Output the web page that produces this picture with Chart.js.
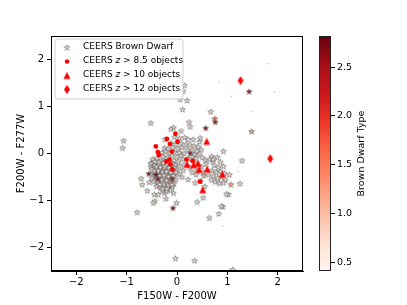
<!DOCTYPE html>
<html>
<head>
<meta charset="utf-8">
<script src="https://cdn.jsdelivr.net/npm/chart.js"></script>
<style>
  html, body { margin: 0; padding: 0; background: #fff; }
  #wrap { position: relative; width: 407px; height: 305px; }
  #wrap canvas { position: absolute; left: 0; top: 0; }
</style>
</head>
<body>
<div id="wrap">
  <canvas id="main" width="407" height="305"></canvas>
  <canvas id="cbar" width="407" height="305"></canvas>
</div>
<script>
// axis setup
const xTicks = [-2, -1, 0, 1, 2];
const yTicks = [-2, -1, 0, 1, 2];
const axisMin = -2.5, axisMax = 2.5;
const cbTicks = [0.5, 1.0, 1.5, 2.0, 2.5];
const typeMin = 0.41, typeMax = 2.82;

const xTitle = "F150W - F200W";
const yTitle = "F200W - F277W";
const cbTitle = "Brown Dwarf Type";

// legend rows: [prefix, italic part, suffix]
const legendRows = [
  ["CEERS Brown Dwarf", "", ""],
  ["CEERS ", "z", " > 8.5 objects"],
  ["CEERS ", "z", " > 10 objects"],
  ["CEERS ", "z", " > 12 objects"]
];

// brown dwarfs, late type (pale fill), [x, y]
const paleType = 0.5;
const bdPale = [
  [0.03,1.65],[0.15,1.45],[0.12,1.33],[0.06,1.15],[0.20,1.13],[0.11,0.94],[-0.52,0.65],[0.24,0.67],
  [0.26,0.57],[-0.07,0.55],[-0.12,0.52],[0.08,0.48],[-1.06,0.27],[-1.08,0.12],[0.67,0.89],[0.92,0.05],
  [1.29,-0.15],[1.25,-0.64],[-0.79,-1.25],[0.91,-1.13],[0.83,-1.28],[0.64,-1.37],[0.40,-1.03],[0.52,-0.94],
  [1.02,-0.87],[-0.03,-2.23],[0.35,-2.28],[1.10,-2.47],
  [-0.71,-0.53],[-0.69,-0.66],[-0.55,-0.61],[-0.59,-0.79],[-0.45,-0.87],[-0.37,-0.87],[-0.44,-1.01],
  [-0.47,-1.05],[-0.22,-0.96],[-0.25,-0.84],[-0.07,-0.84],[-0.01,-1.05],[-0.51,-0.20],[-0.51,-0.28],
  [0.92,-0.27],[0.98,-0.86],[0.88,-1.12],[0.38,-0.45],[0.36,-0.62],[-0.24,0.30],[0.69,-0.06],[0.71,-0.16],
  // upper band
  [-0.05,0.35],[0.05,0.33],[0.15,0.34],[0.22,0.30],[0.32,0.30],[0.46,0.33],[0.45,0.25],
  [-0.12,0.22],[-0.02,0.20],[0.08,0.22],[0.18,0.20],[0.26,0.18],[0.34,0.16],[0.42,0.14],
  [-0.25,0.12],[-0.18,0.10],[-0.08,0.12],[0.02,0.10],[0.10,0.13],[0.20,0.09],[0.30,0.07],[0.40,0.05],[0.48,0.08],
  [-0.30,0.02],[-0.22,0.04],[-0.14,0.01],[-0.05,0.03],[0.05,0.02],[0.14,0.00],[0.35,-0.02],[0.44,-0.01],
  [-0.27,-0.06],[-0.18,-0.08],[-0.10,-0.05],[0.00,-0.07],[0.08,-0.04],
  // main blob
  [-0.48,-0.12],[-0.40,-0.10],[-0.32,-0.14],[-0.24,-0.16],[-0.15,-0.18],[-0.06,-0.15],[0.03,-0.16],
  [-0.52,-0.22],[-0.45,-0.25],[-0.37,-0.22],[-0.29,-0.26],[-0.20,-0.24],[-0.12,-0.28],[-0.03,-0.24],[0.05,-0.27],
  [-0.50,-0.33],[-0.42,-0.31],[-0.34,-0.35],[-0.26,-0.32],[-0.18,-0.36],[-0.09,-0.33],[0.00,-0.36],
  [-0.47,-0.42],[-0.38,-0.40],[-0.30,-0.44],[-0.22,-0.41],[-0.14,-0.45],[-0.05,-0.42],[0.04,-0.44],
  [-0.50,-0.52],[-0.43,-0.50],[-0.34,-0.53],[-0.26,-0.50],[-0.18,-0.54],[-0.10,-0.51],[-0.02,-0.55],
  [-0.46,-0.60],[-0.38,-0.62],[-0.30,-0.59],[-0.22,-0.63],[-0.14,-0.60],[-0.06,-0.64],
  [-0.41,-0.70],[-0.33,-0.72],[-0.25,-0.69],[-0.17,-0.72],[-0.09,-0.70],
  [-0.30,-0.78],[-0.21,-0.80],[-0.13,-0.78],
  [-0.44,-0.17],[-0.36,-0.18],[-0.27,-0.20],[-0.09,-0.22],[-0.41,-0.28],[-0.33,-0.29],[-0.24,-0.28],[-0.16,-0.30],[-0.06,-0.30],
  [-0.45,-0.37],[-0.37,-0.36],[-0.29,-0.39],[-0.21,-0.38],[-0.12,-0.40],[-0.02,-0.40],
  [-0.42,-0.46],[-0.34,-0.47],[-0.26,-0.46],[-0.17,-0.49],[-0.08,-0.47],
  [-0.39,-0.56],[-0.30,-0.55],[-0.21,-0.57],[-0.12,-0.56],
  [-0.34,-0.66],[-0.26,-0.65],[-0.18,-0.67],[-0.10,-0.66],
  [-0.28,-0.74],[-0.20,-0.75],
  // middle band
  [0.12,-0.12],[0.22,-0.10],[0.30,-0.06],[0.38,-0.10],[0.50,-0.08],[0.56,-0.14],
  [0.14,-0.24],[0.26,-0.30],[0.36,-0.20],[0.48,-0.28],[0.58,-0.22],[0.65,-0.12],
  [0.12,-0.36],[0.30,-0.40],[0.40,-0.36],[0.52,-0.40],[0.62,-0.45],
  [0.10,-0.50],[0.22,-0.55],[0.46,-0.58],[0.55,-0.70],
  // right cluster
  [0.72,-0.12],[0.80,-0.08],[0.86,-0.18],[0.74,-0.25],[0.82,-0.30],
  [0.70,-0.36],[0.78,-0.40],[0.86,-0.38],[0.94,-0.42],[0.72,-0.48],[0.80,-0.52],[0.88,-0.50],[0.96,-0.56],
  [0.76,-0.60],[0.84,-0.63],[0.92,-0.62],[1.04,-0.45],[0.68,-0.56]
];

// brown dwarfs with an earlier type, [x, y, type]
const bdTyped = [
  [0.57,0.54,2.7],[0.76,0.67,2.6],[0.75,0.74,1.6],[1.43,1.32,2.5],[0.26,0.01,2.7],
  [-0.56,-0.43,2.7],[-0.42,-0.45,2.8],[-0.38,-0.54,2.6],[-0.08,-1.16,2.7],[1.48,0.47,1.2],
  [-0.10,-0.54,2.5],[1.07,-0.66,1.1],[0.53,-0.47,1.0]
];

// barely visible tiny points
const bdFaint = [[0.84,1.52],[1.08,1.21],[1.80,1.91],[1.94,1.30],[0.92,-1.55],[1.48,0.90],[1.21,-0.38]];

// high-redshift candidates, [x, y]
const z85 = [
  [-0.03,0.42],[-0.20,0.31],[-0.14,0.20],[0.01,0.25],[-0.42,0.15],[-0.38,0.03],[-0.36,-0.03],[-0.10,0.04],
  [-0.15,-0.13],[-0.21,-0.17],[-0.13,-0.23],[-0.09,-0.34],[0.19,-0.13],[0.31,-0.16],[0.46,-0.60]
];
const z10 = [[0.59,0.26],[0.20,-0.23],[0.33,-0.24],[0.42,-0.21],[0.44,-0.34],[0.60,-0.33],[0.90,-0.44],[0.51,-0.77]];
const z12 = [[1.26,1.55],[1.85,-0.11]];

const FONT = "'DejaVu Sans', sans-serif";
const RED = "#ff0000";

// matplotlib "Reds"
const redsStops = ["#fff5f0","#fee0d2","#fcbba1","#fc9272","#fb6a4a","#ef3b2c","#cb181d","#a50f15","#67000d"];
function hexRgb(h) { return [1, 3, 5].map(i => parseInt(h.substr(i, 2), 16)); }
function redsColor(v) {
  let t = (v - typeMin) / (typeMax - typeMin);
  t = Math.max(0, Math.min(1, t));
  const p = t * (redsStops.length - 1);
  const i = Math.min(Math.floor(p), redsStops.length - 2);
  const f = p - i;
  const a = hexRgb(redsStops[i]), b = hexRgb(redsStops[i + 1]);
  const c = a.map((x, k) => Math.round(x + (b[k] - x) * f));
  return `rgb(${c[0]},${c[1]},${c[2]})`;
}

// marker images
const starCache = {};
function starImg(fill) {
  if (starCache[fill]) return starCache[fill];
  const R = 3.0, size = 9;
  const c = document.createElement("canvas");
  c.width = size; c.height = size;
  const g = c.getContext("2d");
  const cx = size / 2, cy = size / 2 + 0.3;
  g.beginPath();
  for (let k = 0; k < 10; k++) {
    const r = k % 2 ? R * 0.382 : R;
    const a = -Math.PI / 2 + k * Math.PI / 5;
    g.lineTo(cx + r * Math.cos(a), cy + r * Math.sin(a));
  }
  g.closePath();
  g.fillStyle = fill; g.fill();
  g.lineWidth = 0.6; g.strokeStyle = "#555555"; g.stroke();
  starCache[fill] = c;
  return c;
}
function triImg() {
  const c = document.createElement("canvas");
  c.width = 10; c.height = 10;
  const g = c.getContext("2d");
  g.beginPath();
  g.moveTo(5, 1.5); g.lineTo(8.5, 8.5); g.lineTo(1.5, 8.5); g.closePath();
  g.fillStyle = RED; g.fill();
  return c;
}
function diamondImg() {
  const c = document.createElement("canvas");
  c.width = 8; c.height = 12;
  const g = c.getContext("2d");
  g.beginPath();
  g.moveTo(4, 1.5); g.lineTo(7, 6); g.lineTo(4, 10.5); g.lineTo(1, 6); g.closePath();
  g.fillStyle = RED; g.fill();
  return c;
}
const TRI = triImg(), DIA = diamondImg();

function fmt(v) { return v < 0 ? "\u2212" + Math.abs(v) : String(v); }
const toXY = p => ({ x: p[0], y: p[1] });

const bdPoints = bdPale.map(p => ({ x: p[0], y: p[1], t: paleType }))
  .concat(bdTyped.map(p => ({ x: p[0], y: p[1], t: p[2] })));

// plot frame on all four sides
const framePlugin = {
  id: "frame",
  afterDraw(chart) {
    const { ctx, chartArea: a } = chart;
    ctx.save();
    ctx.strokeStyle = "#000"; ctx.lineWidth = 1;
    ctx.strokeRect(a.left + 0.5, a.top + 0.5, a.right - a.left - 1, a.bottom - a.top - 1);
    ctx.restore();
  }
};

// legend box inside the axes (upper left)
const legendPlugin = {
  id: "innerLegend",
  afterDraw(chart) {
    const ctx = chart.ctx;
    const bx = 55, by = 39, bw = 128, bh = 60, r = 3;
    ctx.save();
    ctx.beginPath();
    ctx.moveTo(bx + r, by); ctx.arcTo(bx + bw, by, bx + bw, by + bh, r);
    ctx.arcTo(bx + bw, by + bh, bx, by + bh, r); ctx.arcTo(bx, by + bh, bx, by, r);
    ctx.arcTo(bx, by, bx + bw, by, r); ctx.closePath();
    ctx.fillStyle = "rgba(255,255,255,0.8)"; ctx.fill();
    ctx.strokeStyle = "#d0d0d0"; ctx.lineWidth = 1; ctx.stroke();

    const mx = 67, rowsY = [47.5, 61.5, 75.5, 89.5];
    const star = starImg(redsColor(paleType));
    ctx.drawImage(star, mx - 4.5, rowsY[0] - 4.5);
    ctx.beginPath(); ctx.arc(mx, rowsY[1], 2.2, 0, Math.PI * 2); ctx.fillStyle = RED; ctx.fill();
    ctx.drawImage(TRI, mx - 5, rowsY[2] - 5);
    ctx.drawImage(DIA, mx - 4, rowsY[3] - 6);

    ctx.fillStyle = "#000"; ctx.textBaseline = "middle";
    legendRows.forEach((row, i) => {
      let x = 83;
      const y = rowsY[i] - 0.5;
      ctx.font = `9px ${FONT}`;
      ctx.fillText(row[0], x, y); x += ctx.measureText(row[0]).width;
      if (row[1]) {
        ctx.font = `italic 9px ${FONT}`;
        ctx.fillText(row[1], x, y); x += ctx.measureText(row[1]).width;
        ctx.font = `9px ${FONT}`;
        ctx.fillText(row[2], x, y);
      }
    });
    ctx.restore();
  }
};

const tickFont = { family: FONT, size: 10 };

new Chart(document.getElementById("main"), {
  type: "scatter",
  data: {
    datasets: [
      { data: bdFaint.map(toXY), pointStyle: "circle", pointRadius: 0.7, backgroundColor: "#bbbbbb", borderWidth: 0, order: 4 },
      { data: bdPoints, pointStyle: ctx => starImg(redsColor(ctx.raw ? ctx.raw.t : paleType)), pointRadius: 4, order: 3 },
      { data: z85.map(toXY), pointStyle: "circle", pointRadius: 2.4, backgroundColor: RED, borderWidth: 0, order: 2 },
      { data: z10.map(toXY), pointStyle: TRI, pointRadius: 4, order: 1 },
      { data: z12.map(toXY), pointStyle: DIA, pointRadius: 4, order: 0 }
    ]
  },
  options: {
    responsive: false,
    animation: false,
    devicePixelRatio: 1,
    layout: { padding: { left: 0, top: 36, right: 104, bottom: 0 } },
    plugins: { legend: { display: false }, tooltip: { enabled: false } },
    scales: {
      x: {
        type: "linear", min: axisMin, max: axisMax,
        afterBuildTicks: s => { s.ticks = xTicks.map(v => ({ value: v })); },
        afterFit: s => { s.height = 34; },
        grid: { drawOnChartArea: false, tickLength: 4, color: "#000" },
        border: { color: "#000" },
        ticks: { font: tickFont, color: "#000", padding: 1, maxRotation: 0, autoSkip: false, callback: v => fmt(v) },
        title: { display: true, text: xTitle, font: tickFont, color: "#000", padding: { top: 0, bottom: 3 } }
      },
      y: {
        type: "linear", min: axisMin, max: axisMax,
        afterBuildTicks: s => { s.ticks = yTicks.map(v => ({ value: v })); },
        afterFit: s => { s.width = 51; },
        grid: { drawOnChartArea: false, tickLength: 4, color: "#000" },
        border: { color: "#000" },
        ticks: { font: tickFont, color: "#000", padding: 3, autoSkip: false, callback: v => fmt(v) },
        title: { display: true, text: yTitle, font: tickFont, color: "#000", padding: { top: 15, bottom: 0 } }
      }
    }
  },
  plugins: [framePlugin, legendPlugin]
});

// colorbar
const gradientPlugin = {
  id: "gradient",
  beforeDatasetsDraw(chart) {
    const { ctx, chartArea: a } = chart;
    const ys = chart.scales.y;
    ctx.save();
    for (let py = Math.floor(a.top); py < Math.ceil(a.bottom); py++) {
      ctx.fillStyle = redsColor(ys.getValueForPixel(py + 0.5));
      ctx.fillRect(a.left, py, a.right - a.left, 1);
    }
    ctx.restore();
  },
  afterDraw(chart) {
    const { ctx, chartArea: a } = chart;
    ctx.save();
    ctx.strokeStyle = "#222"; ctx.lineWidth = 1;
    ctx.strokeRect(a.left + 0.5, a.top + 0.5, a.right - a.left - 1, a.bottom - a.top - 1);
    ctx.translate(362, (a.top + a.bottom) / 2);
    ctx.rotate(-Math.PI / 2);
    ctx.font = `9.5px ${FONT}`;
    ctx.fillStyle = "#000"; ctx.textAlign = "center"; ctx.textBaseline = "middle";
    ctx.fillText(cbTitle, 0, 0);
    ctx.restore();
  }
};

new Chart(document.getElementById("cbar"), {
  type: "scatter",
  data: { datasets: [] },
  options: {
    responsive: false,
    animation: false,
    devicePixelRatio: 1,
    layout: { padding: { left: 319, top: 36, right: 16, bottom: 34 } },
    plugins: { legend: { display: false }, tooltip: { enabled: false } },
    scales: {
      x: { display: false, min: 0, max: 1 },
      y: {
        position: "right", min: typeMin, max: typeMax,
        afterBuildTicks: s => { s.ticks = cbTicks.map(v => ({ value: v })); },
        afterFit: s => { s.width = 60; },
        grid: { drawOnChartArea: false, tickLength: 4, color: "#000" },
        border: { display: false },
        ticks: { font: { family: FONT, size: 9.5 }, color: "#000", padding: 2, autoSkip: false, callback: v => v.toFixed(1) }
      }
    }
  },
  plugins: [gradientPlugin]
});
</script>
</body>
</html>
